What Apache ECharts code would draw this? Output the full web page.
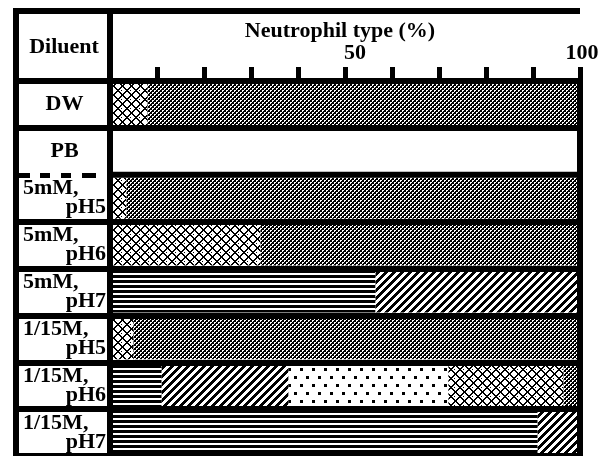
<!DOCTYPE html>
<html><head><meta charset="utf-8">
<script src="https://cdn.jsdelivr.net/npm/echarts@6/dist/echarts.min.js"></script>
<style>html,body{margin:0;padding:0;background:#fff}#c{width:613px;height:456px}</style>
</head><body><div id="c"></div>
<script>
// ---- data ----
const categories = ['DW', 'PB', '5mM,\npH5', '5mM,\npH6', '5mM,\npH7', '1/15M,\npH5', '1/15M,\npH6', '1/15M,\npH7'];
const stripes  = [0, null, 0,    0,  56.5, 0,  11,   91];
const diagonal = [0, null, 0,    0,  43.5, 0,  27,   9];
const dots     = [0, null, 0,    0,  0,    0,  34,   0];
const weave    = [8, null, 3.5,  32, 0,    5,  24.5, 0];
const checker  = [92, null, 96.5, 68, 0,   95, 3.5,  0];
const tickValues = [10, 20, 30, 40, 50, 60, 70, 80, 90, 100];
const tickLabels = [50, 100];
const axisTitle = 'Neutrophil type (%)';
const rowTitle = 'Diluent';

// ---- patterns ----
function pat(w, h, fn) {
  const c = document.createElement('canvas'); c.width = w; c.height = h;
  const g = c.getContext('2d'); const d = g.createImageData(w, h);
  for (let y = 0; y < h; y++) for (let x = 0; x < w; x++) {
    const k = (y * w + x) * 4; const v = fn(x, y) ? 0 : 255;
    d.data[k] = d.data[k + 1] = d.data[k + 2] = v; d.data[k + 3] = 255;
  }
  g.putImageData(d, 0, 0);
  return { image: c, repeat: 'repeat' };
}
const pStripes = pat(4, 5, (x, y) => y < 3);
const pDiag = pat(8, 8, (x, y) => ((x + y) % 8) < 4);
const pDots = pat(12, 16, (x, y) => (x < 3 && y < 3) || (x >= 6 && x < 9 && y >= 8 && y < 11));
const pChecker = pat(4, 4, (x, y) => !((x < 2 && y < 2 && !(x === 1 && y === 1)) || (x >= 2 && y >= 2 && !(x === 3 && y === 3))));
const pWeave = pat(9, 9, (x, y) => { const a = (x + y) % 9, b = ((x - y) % 9 + 9) % 9; return a < 2 || b < 2 || (x === 4 && y === 0); });

// ---- layout ----
const FONT = '"Liberation Serif", "Times New Roman", serif';
const gridLeft = 16, gridTop = 81, gridW = 564, gridH = 375;
const frameTop = 8, lw = 6;
const zeroX = gridLeft + gridW * 20 / 120;

const txt = { fontFamily: FONT, fontWeight: 'bold', fontSize: 22, color: '#000' };

function bar(name, data, color) {
  return { name, type: 'bar', stack: 'all', data, barWidth: 41, silent: true,
    itemStyle: { color }, emphasis: { disabled: true } };
}

const chart = echarts.init(document.getElementById('c'), null, { renderer: 'canvas' });
chart.setOption({
  animation: false,
  backgroundColor: '#fff',
  grid: { left: gridLeft, top: gridTop, width: gridW, height: gridH, containLabel: false },
  xAxis: {
    type: 'value', position: 'top', min: -20, max: 100, interval: 10, z: 5,
    axisLine: { show: true, onZero: false, lineStyle: { color: '#000', width: lw, cap: 'square' } },
    axisTick: { show: true, customValues: tickValues, length: 14, lineStyle: { color: '#000', width: 5 } },
    axisLabel: {
      customValues: tickLabels, margin: 17,
      formatter: v => v === 50 ? '{a|' + v + '}' : '{b|' + v + '}',
      rich: { a: Object.assign({ padding: [0, 0, 0, 20] }, txt), b: Object.assign({ padding: [0, 0, 0, 4] }, txt) }
    },
    splitLine: { show: false }
  },
  yAxis: [{
    type: 'category', inverse: true, data: categories, position: 'left', z: 5,
    axisLine: { show: true, onZero: false, lineStyle: { color: '#000', width: lw } },
    axisTick: { show: true, inside: true, length: 82, interval: 0,
      lineStyle: { color: '#000', width: 5, type: [14, 10, 10, 11, 10, 11, 14] } },
    axisLabel: {
      interval: 0, inside: true, margin: 7, width: 83,
      formatter: v => { const p = v.split('\n'); return p.length > 1 ? '{l|' + p[0] + '}\n{r|' + p[1] + '}' : '{c|' + p[0] + '}'; },
      rich: {
        l: Object.assign({ align: 'left', lineHeight: 19 }, txt),
        r: Object.assign({ align: 'right', lineHeight: 19 }, txt),
        c: Object.assign({ align: 'center', lineHeight: 22 }, txt)
      }
    },
    splitLine: { show: true, interval: i => i !== 2, lineStyle: { color: '#000', width: lw } }
  }, {
    type: 'category', inverse: true, data: categories, position: 'right', z: 5,
    axisLine: { show: true, onZero: false, lineStyle: { color: '#000', width: lw } },
    axisTick: { show: true, inside: true, length: gridW - (zeroX - gridLeft), interval: 0,
      lineStyle: { color: '#000', width: lw } },
    axisLabel: { show: false },
    splitLine: { show: false }
  }],
  series: [
    bar('Type A', stripes, pStripes),
    bar('Type B', diagonal, pDiag),
    bar('Type C', dots, pDots),
    bar('Type D', weave, pWeave),
    bar('Type E', checker, pChecker)
  ],
  graphic: [
    { type: 'rect', z: 100, shape: { x: gridLeft - lw / 2, y: frameTop, width: gridW + lw / 2, height: lw }, style: { fill: '#000' } },
    { type: 'rect', z: 100, shape: { x: gridLeft - lw / 2, y: frameTop, width: lw, height: gridTop - frameTop + lw / 2 }, style: { fill: '#000' } },
    { type: 'rect', z: 100, shape: { x: zeroX - lw / 2, y: frameTop, width: lw, height: gridTop + gridH - frameTop }, style: { fill: '#000' } },
    { type: 'text', z: 100, x: (gridLeft + zeroX) / 2 + 1, y: 47,
      style: { text: rowTitle, font: 'bold 22px ' + FONT, fill: '#000', align: 'center', verticalAlign: 'middle' } },
    { type: 'text', z: 100, x: 340, y: 31,
      style: { text: axisTitle, font: 'bold 22px ' + FONT, fill: '#000', align: 'center', verticalAlign: 'middle' } }
  ]
});
</script></body></html>
